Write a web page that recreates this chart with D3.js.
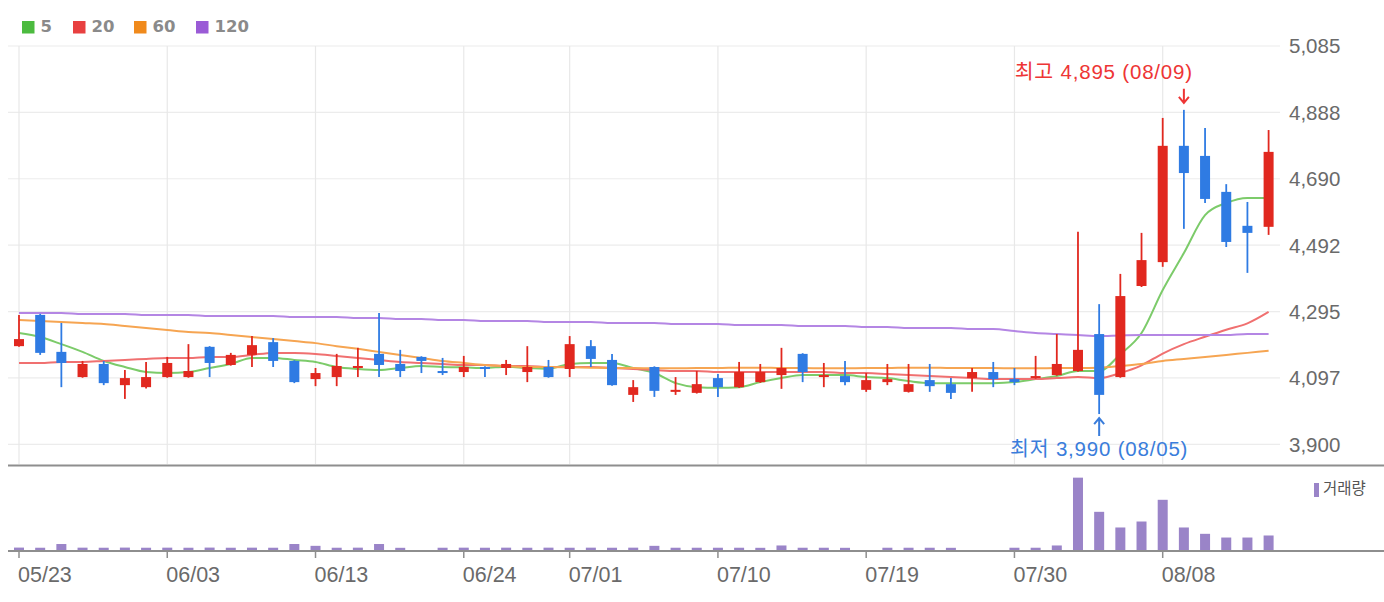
<!DOCTYPE html>
<html>
<head>
<meta charset="utf-8">
<script src="https://cdn.jsdelivr.net/npm/d3@7"></script>
<style>
  body { margin: 0; background: #fff; }
  svg { display: block; }
</style>
</head>
<body>
<svg id="chart" width="1384" height="602"></svg>
<script>
// trading days shown
const dates = [
  '05/23','05/24','05/27','05/28','05/29','05/30','05/31',
  '06/03','06/04','06/05','06/07','06/10','06/11','06/12','06/13','06/14','06/17','06/18','06/19','06/20','06/21','06/24','06/25','06/26','06/27','06/28',
  '07/01','07/02','07/03','07/04','07/05','07/08','07/09','07/10','07/11','07/12','07/15','07/16','07/17','07/18','07/19','07/22','07/23','07/24','07/25','07/26','07/29','07/30','07/31',
  '08/01','08/02','08/05','08/06','08/07','08/08','08/09','08/12','08/13','08/14','08/16'
];

// OHLC
const open = [4192,4285,4175,4100,4139,4076,4070,4100,4100,4190, 4136,4166,4204,4148,4094,4100,4130,4169,4139,4160,
  4118,4115,4130,4127,4115,4130,4124,4192,4151,4047, 4130,4056,4053,4097,4070,4085,4106,4169,4100,4103,
  4062,4085,4056,4091,4079,4097,4115,4094,4097,4106, 4118,4228,4100,4371,4442,4788,4758,4651,4550,4547];
const high = [4285,4288,4261,4148,4148,4121,4145,4160,4198,4192, 4172,4222,4216,4150,4127,4169,4187,4291,4181,4162,
  4157,4163,4132,4151,4192,4151,4222,4210,4169,4091, 4132,4100,4118,4109,4145,4139,4187,4171,4142,4148,
  4112,4139,4139,4139,4097,4127,4145,4127,4163,4228, 4532,4317,4407,4529,4871,4895,4841,4674,4621,4835];
const low = [4190,4166,4070,4098,4076,4035,4066,4098,4098,4100, 4134,4130,4130,4082,4073,4073,4100,4100,4100,4112,
  4106,4100,4100,4106,4085,4098,4100,4130,4074,4026, 4041,4047,4051,4041,4068,4083,4065,4085,4070,4076,
  4056,4076,4054,4056,4035,4056,4070,4076,4095,4104, 4116,3990,4098,4368,4428,4541,4618,4487,4410,4523];
const close = [4213,4172,4142,4139,4082,4097,4100,4142,4118,4142, 4166,4195,4148,4085,4112,4133,4133,4136,4118,4148,
  4112,4130,4124,4139,4130,4100,4198,4154,4076,4070, 4059,4062,4079,4070,4115,4115,4127,4115,4106,4085,
  4091,4094,4079,4073,4053,4115,4094,4085,4103,4139, 4181,4047,4341,4448,4788,4707,4630,4502,4529,4770];

// moving averages
const ma5 = [4231,4219,4198,4175,4148,4130,4115,4112,4115,4127, 4139,4157,4157,4151,4145,4130,4124,4121,4127,4133,
  4130,4129,4127,4131,4127,4125,4139,4142,4142,4127, 4112,4082,4070,4068,4070,4085,4097,4106,4106,4106,
  4100,4097,4088,4082,4082,4082,4082,4085,4094,4103, 4118,4118,4168,4231,4359,4469,4582,4618,4633,4633];
const ma20 = [4142,4142,4145,4145,4148,4151,4154,4157,4157,4160, 4160,4166,4172,4172,4169,4163,4157,4151,4145,4142,
  4139,4136,4136,4133,4133,4130,4130,4130,4127,4124, 4121,4118,4118,4115,4115,4115,4115,4115,4115,4112,
  4112,4109,4106,4103,4100,4097,4094,4094,4094,4097, 4100,4097,4112,4135,4170,4198,4220,4241,4260,4294];
const ma60 = [4270,4267,4264,4261,4258,4252,4246,4240,4234,4231, 4225,4219,4213,4207,4201,4192,4184,4175,4166,4157,
  4148,4142,4136,4133,4130,4130,4129,4128,4127,4127, 4126,4126,4127,4127,4128,4128,4127,4127,4126,4126,
  4127,4127,4128,4128,4127,4127,4127,4126,4126,4127, 4127,4128,4133,4139,4148,4154,4160,4166,4172,4178];
const ma120 = [4291,4291,4291,4288,4288,4288,4285,4285,4285,4282, 4282,4282,4282,4279,4279,4279,4276,4276,4273,4273,
  4270,4270,4267,4267,4267,4264,4264,4264,4261,4261, 4261,4258,4258,4258,4255,4255,4255,4252,4252,4252,
  4249,4249,4246,4246,4246,4243,4243,4237,4231,4228, 4225,4222,4224,4225,4225,4225,4225,4225,4228,4228];

// volume (shares)
const volume = [40000,38000,89000,39000,38000,40000,38000,39000,38000,40000, 38000,39000,38000,89000,64000,38000,39000,89000,37000,3000,
  38000,39000,38000,39000,38000,39000,38000,39000,38000,39000, 64000,38000,38000,38000,38000,37000,69000,38000,38000,37000,
  3000,38000,38000,38000,37000,3000,3000,38000,38000,69000, 1000000,531000,316000,398000,696000,316000,229000,178000,178000,206000];

const priceTicks = [3900, 4097.5, 4295, 4492.5, 4690, 4887.5, 5085];
const priceTickLabels = ['3,900','4,097','4,295','4,492','4,690','4,888','5,085'];
const dateTicks = ['05/23','06/03','06/13','06/24','07/01','07/10','07/19','07/30','08/08'];

const maNames = ['5', '20', '60', '120'];
const maSeries = [ma5, ma20, ma60, ma120];
const maLegendColors = ['#4cbb3f', '#e84040', '#f08a1c', '#9a5bd6'];
const maLineColors = ['#7ccb6a', '#f07070', '#f6a552', '#b486e4'];

const upColor = '#e1281f';
const downColor = '#2f7be3';
const volColor = '#9a84c8';

const svg = d3.select('#chart');

const left = 8, right = 1280;
const x = d3.scalePoint().domain(dates).range([19, 1268.6]);
const y = d3.scaleLinear().domain([3900, 5085]).range([444.3, 46]);
const yv = d3.scaleLinear().domain([0, 1160000]).range([550.5, 466]);

// grid
svg.append('g')
  .selectAll('line')
  .data(priceTicks)
  .join('line')
  .attr('x1', left).attr('x2', right)
  .attr('y1', d => y(d)).attr('y2', d => y(d))
  .attr('stroke', '#ececec').attr('stroke-width', 1.2);

svg.append('g')
  .selectAll('line')
  .data(dateTicks)
  .join('line')
  .attr('x1', d => x(d)).attr('x2', d => x(d))
  .attr('y1', y(5085)).attr('y2', 464)
  .attr('stroke', '#e8e8e8').attr('stroke-width', 1.2);

// price labels (right)
svg.append('g')
  .selectAll('text')
  .data(priceTicks)
  .join('text')
  .attr('x', 1289)
  .attr('y', d => y(d) + 2)
  .attr('dominant-baseline', 'middle')
  .attr('font-family', 'Liberation Sans, Arial, sans-serif')
  .attr('font-size', 20.5)
  .attr('fill', '#6a6a6a')
  .text((d, i) => priceTickLabels[i]);

// moving average lines
maSeries.forEach((series, k) => {
  const line = d3.line()
    .x((d, i) => x(dates[i]))
    .y(d => y(d))
    .curve(d3.curveMonotoneX);
  svg.append('path')
    .datum(series)
    .attr('d', line)
    .attr('fill', 'none')
    .attr('stroke', maLineColors[k])
    .attr('stroke-width', 2);
});

// candles
const candles = svg.append('g')
  .selectAll('g')
  .data(dates)
  .join('g')
  .attr('fill', (d, i) => close[i] >= open[i] ? upColor : downColor)
  .attr('stroke', (d, i) => close[i] >= open[i] ? upColor : downColor);

candles.append('line')
  .attr('x1', d => x(d)).attr('x2', d => x(d))
  .attr('y1', (d, i) => y(high[i]))
  .attr('y2', (d, i) => y(low[i]))
  .attr('stroke-width', 1.8);

candles.append('rect')
  .attr('stroke', 'none')
  .attr('x', d => x(d) - 5)
  .attr('width', 10)
  .attr('y', (d, i) => y(Math.max(open[i], close[i])))
  .attr('height', (d, i) => Math.max(2, y(Math.min(open[i], close[i])) - y(Math.max(open[i], close[i]))));

// high / low markers
const hiIdx = high.indexOf(d3.max(high));
const loIdx = low.indexOf(d3.min(low));
const hx = x(dates[hiIdx]);
const lx = x(dates[loIdx]);
const noteFont = 'Liberation Sans, Noto Sans CJK KR, sans-serif';

svg.append('path')
  .attr('d', `M${hx},${y(high[hiIdx]) - 21}V${y(high[hiIdx]) - 7}M${hx - 5},${y(high[hiIdx]) - 13}L${hx},${y(high[hiIdx]) - 7}L${hx + 5},${y(high[hiIdx]) - 13}`)
  .attr('fill', 'none').attr('stroke', '#ee3535').attr('stroke-width', 2);
svg.append('text')
  .attr('x', hx + 9).attr('y', 74)
  .attr('text-anchor', 'end')
  .attr('dominant-baseline', 'middle')
  .attr('font-family', noteFont)
  .attr('font-size', 20.5)
  .attr('letter-spacing', 0.8)
  .attr('fill', '#ee3535')
  .text(`최고 ${d3.format(',')(high[hiIdx])} (${dates[hiIdx]})`);

svg.append('path')
  .attr('d', `M${lx},${y(low[loIdx]) + 22}V${y(low[loIdx]) + 4}M${lx - 5},${y(low[loIdx]) + 10}L${lx},${y(low[loIdx]) + 4}L${lx + 5},${y(low[loIdx]) + 10}`)
  .attr('fill', 'none').attr('stroke', '#3a7ddb').attr('stroke-width', 2);
svg.append('text')
  .attr('x', lx).attr('y', 451)
  .attr('text-anchor', 'middle')
  .attr('dominant-baseline', 'middle')
  .attr('font-family', noteFont)
  .attr('font-size', 20.5)
  .attr('letter-spacing', 0.8)
  .attr('fill', '#3a7ddb')
  .text(`최저 ${d3.format(',')(low[loIdx])} (${dates[loIdx]})`);

// pane separator
svg.append('line')
  .attr('x1', left).attr('x2', 1384)
  .attr('y1', 465.5).attr('y2', 465.5)
  .attr('stroke', '#8e8e8e').attr('stroke-width', 2.2);

// volume bars
svg.append('g')
  .selectAll('rect')
  .data(dates)
  .join('rect')
  .attr('x', d => x(d) - 5)
  .attr('width', 10)
  .attr('y', (d, i) => yv(volume[i]))
  .attr('height', (d, i) => yv(0) - yv(volume[i]))
  .attr('fill', volColor);

// volume baseline + ticks
svg.append('line')
  .attr('x1', left).attr('x2', 1384)
  .attr('y1', 551).attr('y2', 551)
  .attr('stroke', '#8e8e8e').attr('stroke-width', 2.2);

svg.append('g')
  .selectAll('line')
  .data(dateTicks)
  .join('line')
  .attr('x1', d => x(d)).attr('x2', d => x(d))
  .attr('y1', 551).attr('y2', 558)
  .attr('stroke', '#8e8e8e').attr('stroke-width', 1.5);

svg.append('g')
  .selectAll('text')
  .data(dateTicks)
  .join('text')
  .attr('x', d => x(d) - 1)
  .attr('y', 576)
  .attr('dominant-baseline', 'middle')
  .attr('font-family', 'Liberation Sans, Arial, sans-serif')
  .attr('font-size', 21.5)
  .attr('fill', '#6a6a6a')
  .text(d => d);

// volume legend
svg.append('rect')
  .attr('x', 1314).attr('y', 483).attr('width', 5).attr('height', 14)
  .attr('fill', volColor);
svg.append('text')
  .attr('x', 1323).attr('y', 490)
  .attr('dominant-baseline', 'middle')
  .attr('font-family', 'Noto Sans CJK KR, sans-serif')
  .attr('font-size', 15.5)
  .attr('fill', '#555')
  .text('거래량');

// MA legend
const legendX = [22, 73, 134, 196];
const legend = svg.append('g')
  .selectAll('g')
  .data(maNames)
  .join('g')
  .attr('transform', (d, i) => `translate(${legendX[i]},21)`);
legend.append('rect')
  .attr('width', 12.5).attr('height', 12.5)
  .attr('fill', (d, i) => maLegendColors[i]);
legend.append('text')
  .attr('x', 18.5).attr('y', 6.5)
  .attr('dominant-baseline', 'middle')
  .attr('font-family', 'DejaVu Sans, sans-serif')
  .attr('font-weight', 'bold')
  .attr('font-size', 16.5)
  .attr('fill', '#8a8a8a')
  .text(d => d);
</script>
</body>
</html>
